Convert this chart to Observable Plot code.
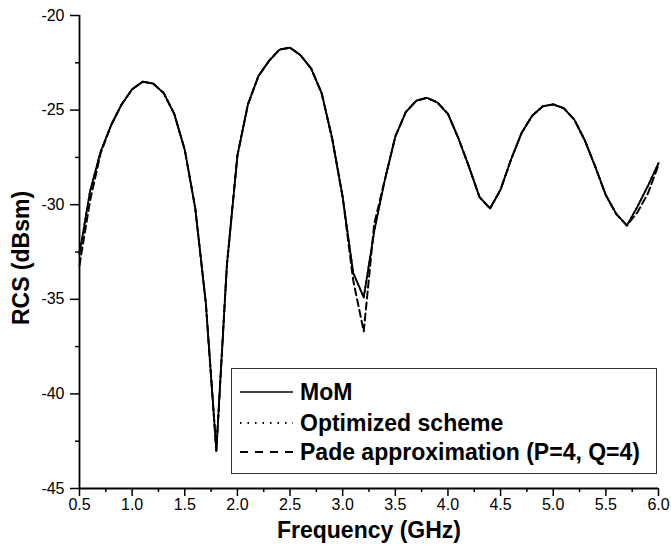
<!DOCTYPE html>
<html>
<head>
<meta charset="utf-8">
<script src="https://cdn.jsdelivr.net/npm/d3@7"></script>
<script src="https://cdn.jsdelivr.net/npm/@observablehq/plot@0.6"></script>
<style>
  html, body { margin: 0; padding: 0; background: #fff; }
  #wrap { position: relative; width: 671px; height: 546px; font-family: "Liberation Sans", Arial, sans-serif; }
  #legend { position: absolute; left: 231px; top: 368px; width: 426px; height: 106px; box-sizing: border-box; border: 1px solid #333; background: #fff; }
</style>
</head>
<body>
<div id="wrap"></div>
<script>
const freq = [0.5,0.6,0.7,0.8,0.9,1.0,1.1,1.2,1.3,1.4,1.5,1.6,1.7,1.8,1.9,2.0,2.1,2.2,2.3,2.4,2.5,2.6,2.7,2.8,2.9,3.0,3.1,3.2,3.3,3.4,3.5,3.6,3.7,3.8,3.9,4.0,4.1,4.2,4.3,4.4,4.5,4.6,4.7,4.8,4.9,5.0,5.1,5.2,5.3,5.4,5.5,5.6,5.7,5.8,5.9,6.0];
const mom = [-32.6,-29.3,-27.2,-25.8,-24.7,-23.9,-23.5,-23.6,-24.1,-25.2,-27.1,-30.2,-35.2,-43.0,-33.2,-27.4,-24.7,-23.2,-22.4,-21.8,-21.7,-22.1,-22.8,-24.1,-26.5,-29.6,-33.6,-34.9,-31.4,-28.7,-26.4,-25.1,-24.5,-24.35,-24.6,-25.2,-26.5,-28.0,-29.6,-30.2,-29.2,-27.6,-26.2,-25.3,-24.8,-24.7,-24.9,-25.5,-26.6,-28.0,-29.5,-30.5,-31.1,-30.1,-29.0,-27.8];
const optimized = [-32.6,-29.3,-27.2,-25.8,-24.7,-23.9,-23.5,-23.6,-24.1,-25.2,-27.1,-30.2,-35.2,-43.0,-33.2,-27.4,-24.7,-23.2,-22.4,-21.8,-21.7,-22.1,-22.8,-24.1,-26.5,-29.6,-33.6,-34.9,-31.4,-28.7,-26.4,-25.1,-24.5,-24.35,-24.6,-25.2,-26.5,-28.0,-29.6,-30.2,-29.2,-27.6,-26.2,-25.3,-24.8,-24.7,-24.9,-25.5,-26.6,-28.0,-29.5,-30.5,-31.1,-30.1,-29.0,-27.8];
const pade = [-33.2,-29.8,-27.3,-25.8,-24.7,-23.9,-23.5,-23.6,-24.1,-25.2,-27.1,-30.2,-35.2,-43.0,-33.2,-27.4,-24.7,-23.2,-22.4,-21.8,-21.7,-22.1,-22.8,-24.1,-26.5,-29.6,-34.0,-36.7,-31.0,-28.7,-26.4,-25.1,-24.5,-24.35,-24.6,-25.2,-26.5,-28.0,-29.6,-30.2,-29.2,-27.6,-26.2,-25.3,-24.8,-24.7,-24.9,-25.5,-26.6,-28.0,-29.5,-30.5,-31.1,-30.4,-29.4,-27.9];

const xMajor = [0.5,1.0,1.5,2.0,2.5,3.0,3.5,4.0,4.5,5.0,5.5,6.0];
const xMinor = [0.75,1.25,1.75,2.25,2.75,3.25,3.75,4.25,4.75,5.25,5.75];
const yMajor = [-45,-40,-35,-30,-25,-20];
const yMinor = [-42.5,-37.5,-32.5,-27.5,-22.5];

const seriesNames = ["MoM", "Optimized scheme", "Pade approximation (P=4, Q=4)"];
const xTitle = "Frequency (GHz)";
const yTitle = "RCS (dBsm)";

const rows = (vals) => freq.map((f, i) => ({f, v: vals[i]}));

const fontFamily = '"Liberation Sans", Arial, sans-serif';

const chart = Plot.plot({
  width: 671,
  height: 546,
  marginLeft: 79,
  marginRight: 13,
  marginTop: 15,
  marginBottom: 58,
  style: {fontFamily, background: "#fff", color: "#000"},
  x: {domain: [0.5, 6.0]},
  y: {domain: [-45, -20]},
  marks: [
    Plot.axisX({ticks: xMajor, tickSize: 8, tickPadding: 2, tickFormat: d3.format(".1f"), fontSize: 16, strokeWidth: 1.5, label: null}),
    Plot.axisX({ticks: xMinor, tickSize: 4, tickFormat: () => "", strokeWidth: 1.5, label: null}),
    Plot.axisY({ticks: yMajor, tickSize: 9, tickPadding: 6, tickFormat: d => String(d), fontSize: 16, strokeWidth: 1.5, label: null}),
    Plot.axisY({ticks: yMinor, tickSize: 4, tickFormat: () => "", strokeWidth: 1.5, label: null}),
    Plot.ruleX([0.5], {stroke: "#000", strokeWidth: 1.8}),
    Plot.ruleY([-45], {stroke: "#000", strokeWidth: 1.8}),
    Plot.line(rows(mom), {x: "f", y: "v", stroke: "#000", strokeWidth: 1.8}),
    Plot.line(rows(optimized), {x: "f", y: "v", stroke: "#000", strokeWidth: 1.8, strokeDasharray: "1.5,3.5"}),
    Plot.line(rows(pade), {x: "f", y: "v", stroke: "#000", strokeWidth: 2, strokeDasharray: "7,4"}),
    Plot.text([xTitle], {text: d => d, frameAnchor: "bottom", textAnchor: "middle", lineAnchor: "middle", dy: 42, fontSize: 23, fontWeight: "bold", fill: "#000"}),
    Plot.text([yTitle], {text: d => d, frameAnchor: "left", textAnchor: "middle", lineAnchor: "middle", dx: -58, dy: 6, rotate: -90, fontSize: 23, fontWeight: "bold", fill: "#000"})
  ]
});

const wrap = document.getElementById("wrap");
wrap.appendChild(chart);

// Legend (inside plot area, lower right)
const legend = document.createElement("div");
legend.id = "legend";
const ns = "http://www.w3.org/2000/svg";
const lsvg = document.createElementNS(ns, "svg");
lsvg.setAttribute("width", 424);
lsvg.setAttribute("height", 104);
const dashes = [null, "1.5,6", "8,7"];
const rowY = [23, 54, 83];
seriesNames.forEach((name, i) => {
  const ln = document.createElementNS(ns, "line");
  ln.setAttribute("x1", 8); ln.setAttribute("x2", 61);
  ln.setAttribute("y1", rowY[i]); ln.setAttribute("y2", rowY[i]);
  ln.setAttribute("stroke", "#000");
  ln.setAttribute("stroke-width", i === 0 ? 1.3 : 2);
  if (dashes[i]) ln.setAttribute("stroke-dasharray", dashes[i]);
  lsvg.appendChild(ln);
  const tx = document.createElementNS(ns, "text");
  tx.setAttribute("x", 68); tx.setAttribute("y", rowY[i]);
  tx.setAttribute("dy", "0.36em");
  tx.setAttribute("font-family", fontFamily);
  tx.setAttribute("font-size", 23);
  tx.setAttribute("font-weight", "bold");
  tx.textContent = name;
  lsvg.appendChild(tx);
});
legend.appendChild(lsvg);
wrap.appendChild(legend);
</script>
</body>
</html>
